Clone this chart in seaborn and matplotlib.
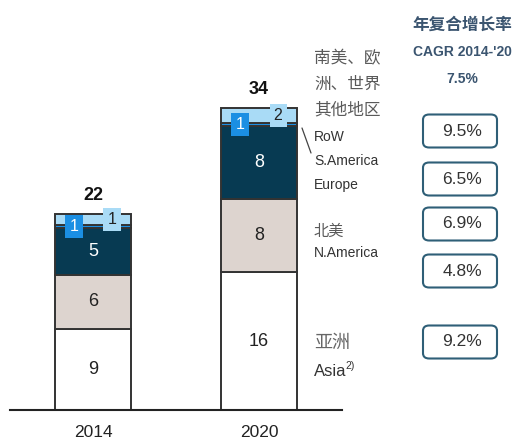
import matplotlib
matplotlib.use("Agg")
import matplotlib.pyplot as plt
from matplotlib.patches import FancyBboxPatch
import seaborn as sns
import pandas as pd
import numpy as np

# %%
years = ["2014", "2020"]
totals = ["22", "34"]
segments = ["Asia", "N.America", "Europe", "S.America", "RoW"]
asia = [9.1, 15.5]
n_america = [6.1, 8.2]
europe = [5.2, 8.2]
s_america = [0.4, 0.4]
row = [1.2, 1.6]
asia_lbl = ["9", "16"]
n_america_lbl = ["6", "8"]
europe_lbl = ["5", "8"]
s_america_lbl = ["1", "1"]
row_lbl = ["1", "2"]
cagr_total = "7.5%"
cagr = ["9.5%", "6.5%", "6.9%", "4.8%", "9.2%"]

colors = ["#ffffff", "#ddd4cf", "#073a52", "#1b8fe3", "#a9dbf6"]
text_colors = ["#222222", "#222222", "#ffffff", "#ffffff", "#222222"]

# %%
sns.set_style("white")
plt.rcParams['font.family'] = ['Liberation Sans', 'Noto Sans CJK SC', 'DejaVu Sans']

W, H = 515, 440
fig = plt.figure(figsize=(W / 100, H / 100), dpi=100)
ax = fig.add_axes([10 / W, 30 / H, 332 / W, 356 / H])

df = pd.DataFrame({"year": years, "Asia": asia, "N.America": n_america,
                   "Europe": europe, "S.America": s_america, "RoW": row})
labels = [asia_lbl, n_america_lbl, europe_lbl, s_america_lbl, row_lbl]

bottom = np.zeros(len(years))
for seg, col, tcol, lbl in zip(segments, colors, text_colors, labels):
    vals = df[seg].to_numpy()
    sns.barplot(x=df["year"], y=vals, bottom=bottom, color=col, width=0.46,
                edgecolor="#333333", linewidth=1.4, ax=ax, saturation=1)
    mids = bottom + vals / 2
    for i, (m, t) in enumerate(zip(mids, lbl)):
        if seg == "S.America":
            ax.text(i - 0.115, m, t, ha="center", va="center", color=tcol, fontsize=11.5,
                    bbox=dict(boxstyle="square,pad=0.26", fc=col, ec="none"), zorder=5)
        elif seg == "RoW":
            ax.text(i + 0.115, m, t, ha="center", va="center", color=tcol, fontsize=11.5,
                    bbox=dict(boxstyle="square,pad=0.26", fc=col, ec="none"), zorder=5)
        else:
            ax.text(i, m, t, ha="center", va="center", color=tcol, fontsize=13)
    bottom = bottom + vals

for i, t in enumerate(totals):
    ax.text(i, bottom[i] + 1.2, t, ha="center", va="bottom", fontsize=13, fontweight="bold",
            color="#111111")

ax.set_xlim(-0.5, 1.5)
ax.set_ylim(0, 40)
ax.set_yticks([])
ax.set_xlabel("")
ax.set_ylabel("")
ax.tick_params(axis="x", length=0, labelsize=12.5, pad=11, colors="#222222")
for s in ["top", "left", "right"]:
    ax.spines[s].set_visible(False)
ax.spines["bottom"].set_color("#222222")
ax.spines["bottom"].set_linewidth(1.5)


def ftext(x, y, s, **kw):
    fig.text(x / W, 1 - y / H, s, **kw)


# region labels
gray_cn = "#5a5a5a"
gray_en = "#333333"
for y, s in [(58, "南美、欧"), (84, "洲、世界"), (110, "其他地区")]:
    ftext(314, y, s, fontsize=12, color=gray_cn, va="center")
for y, s in [(137, "RoW"), (161, "S.America"), (185, "Europe")]:
    ftext(314, y, s, fontsize=10, color=gray_en, va="center")
fig.add_artist(plt.Line2D([302 / W, 311 / W], [1 - 128 / H, 1 - 153 / H],
                          color="#444444", lw=0.9))
ftext(314, 232, "北美", fontsize=11, color=gray_cn, va="center")
ftext(314, 253, "N.America", fontsize=10, color=gray_en, va="center")
ftext(314, 343, "亚洲", fontsize=13, color="#666666", va="center")
ftext(314, 371, "Asia", fontsize=12, color=gray_en, va="center")
ftext(345, 366, "2)", fontsize=7.5, color=gray_en, va="center")

# CAGR column
hdr = "#3b5570"
ftext(462, 25, "年复合增长率", fontsize=12, color=hdr, ha="center", va="center", fontweight="bold")
ftext(462, 52, "CAGR 2014-'20", fontsize=10, color=hdr, ha="center", va="center", fontweight="bold")
ftext(462, 79, cagr_total, fontsize=10, color=hdr, ha="center", va="center", fontweight="bold")

box_y = [131, 179, 224, 271, 342]
for y, s in zip(box_y, cagr):
    fig.add_artist(FancyBboxPatch((423 / W, 1 - (y + 16.5) / H), 74 / W, 33 / H,
                                  boxstyle="round,pad=0,rounding_size=0.012",
                                  transform=fig.transFigure, fc="white",
                                  ec="#2f5f77", lw=1.5))
    ftext(462, y, s, fontsize=12.5, color="#333333", ha="center", va="center")

fig.savefig("out.png", dpi=100)
